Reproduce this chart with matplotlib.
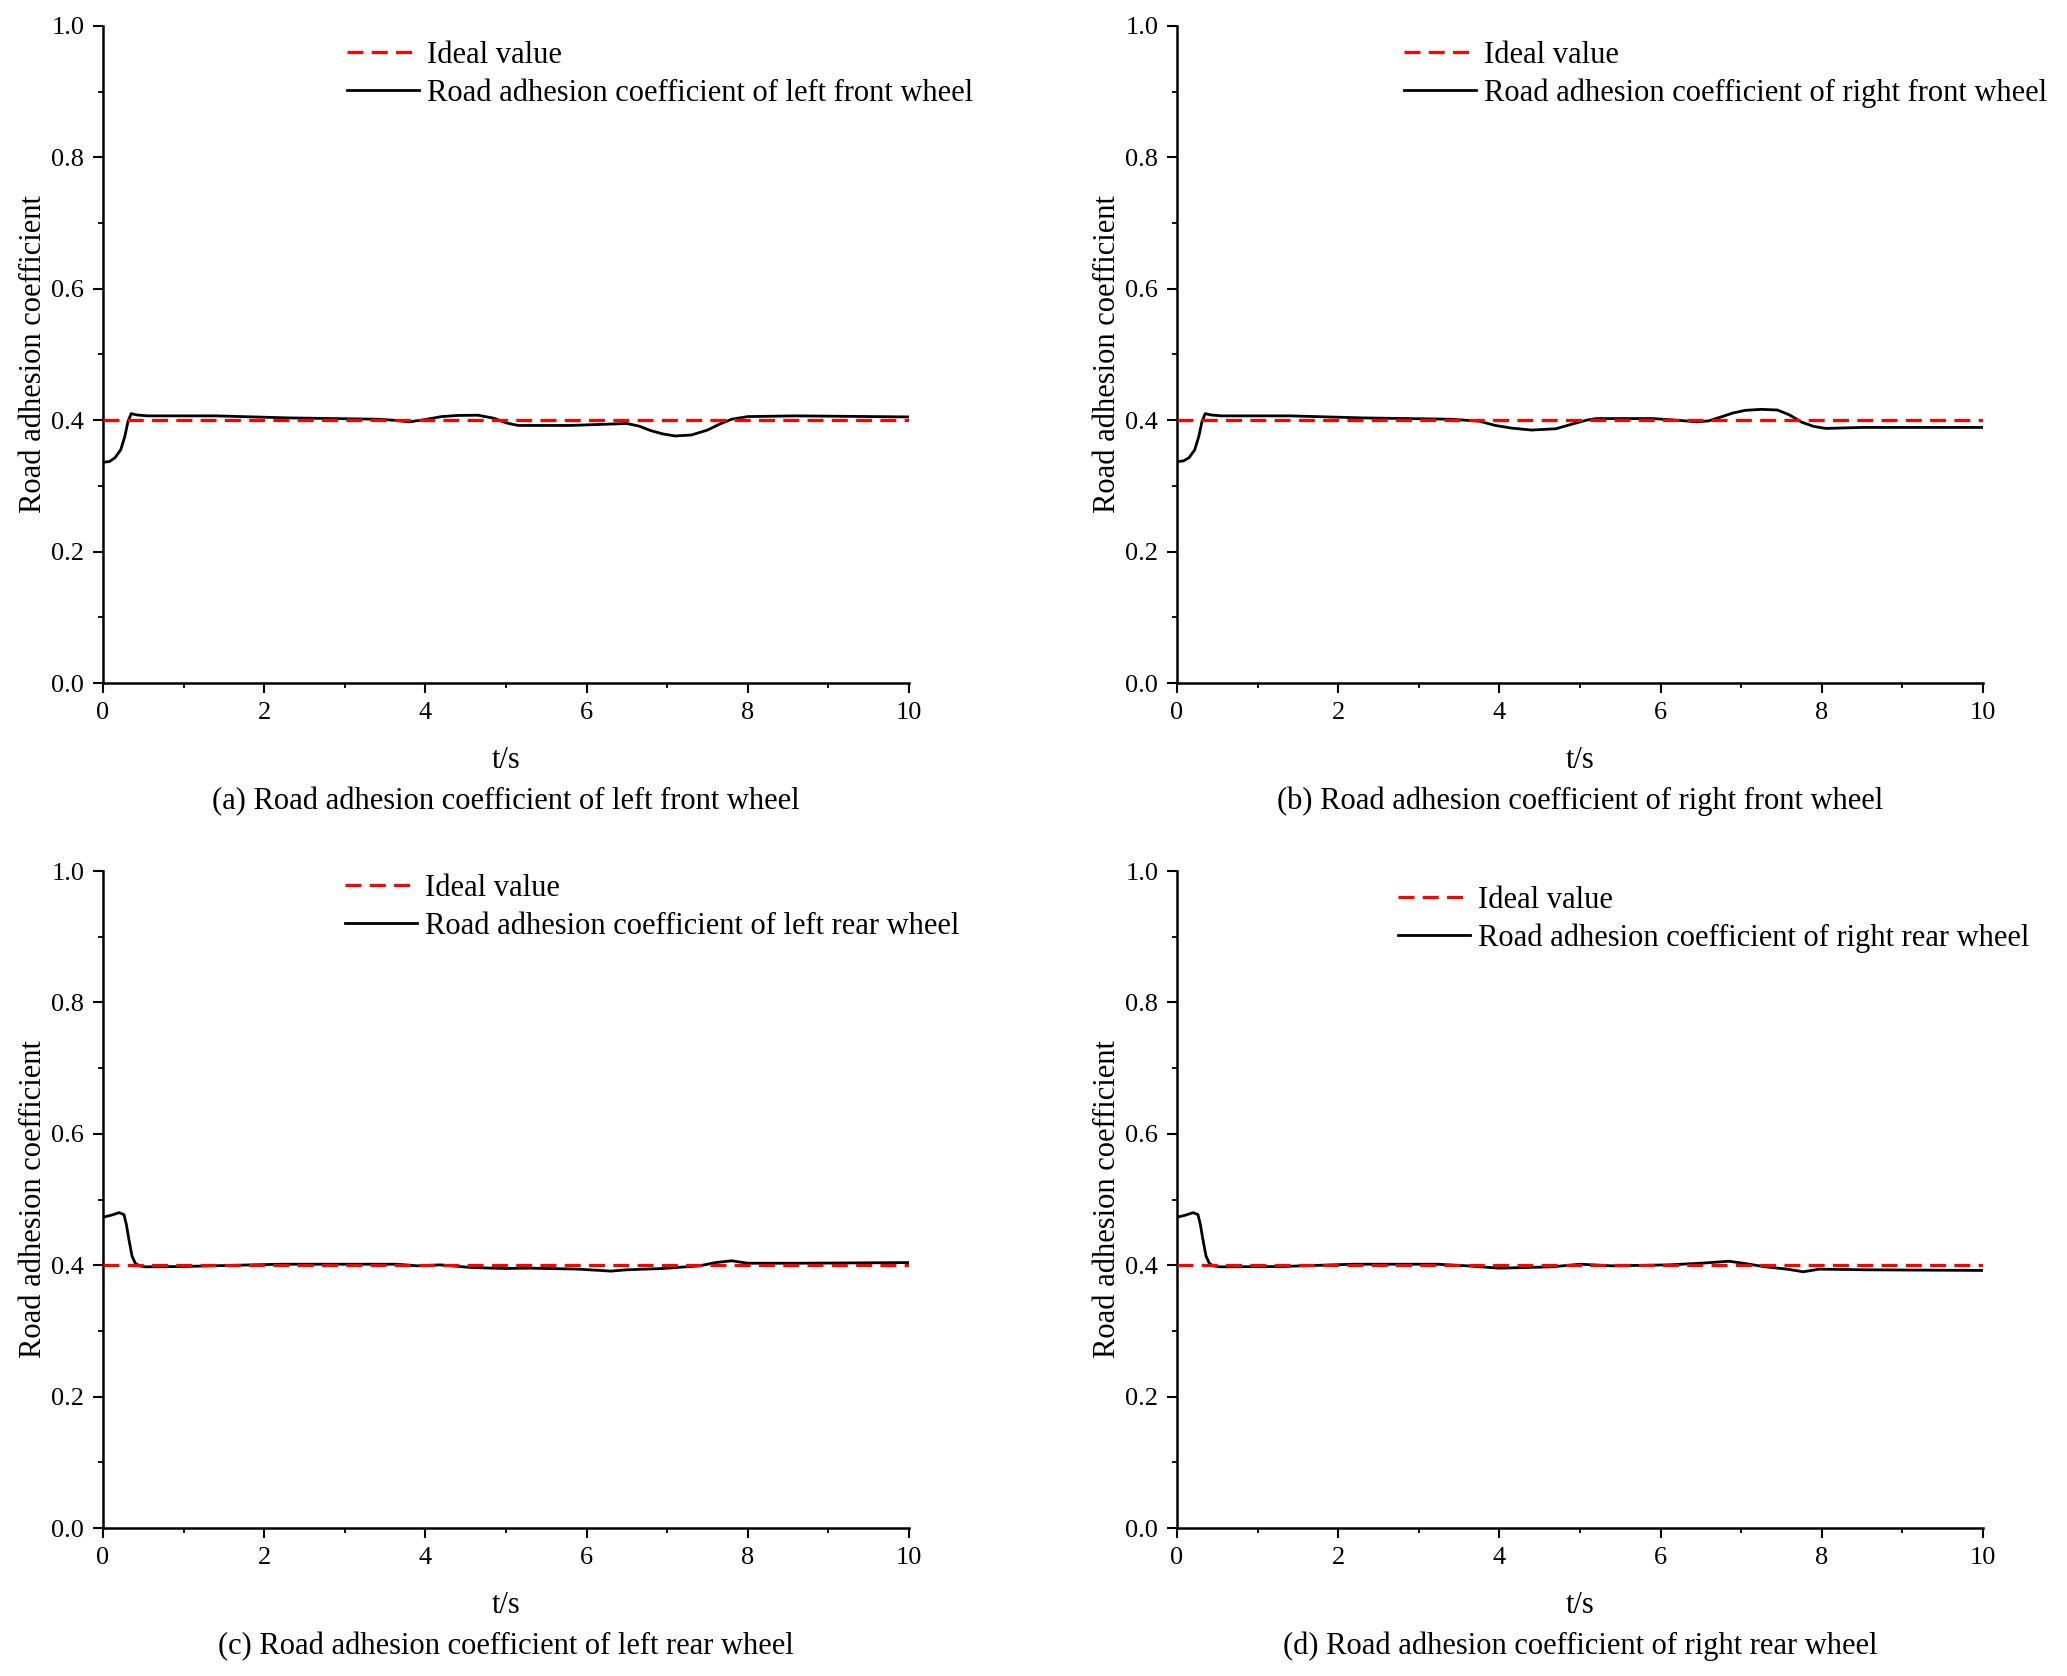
import numpy as np
import matplotlib
matplotlib.use('Agg')
import matplotlib.pyplot as plt
from matplotlib.ticker import MultipleLocator

plt.rcParams['font.family'] = ['Liberation Serif', 'DejaVu Serif']
plt.rcParams['mathtext.fontset'] = 'stix'

# ideal road adhesion coefficient
ideal = 0.4

# (a) left front wheel
tA = [0.0, 0.08, 0.15, 0.22, 0.27, 0.31, 0.35, 0.42, 0.55, 1.4, 2.3, 3.4, 3.6, 3.8, 4.0, 4.2,
      4.4, 4.65, 4.85, 5.0, 5.15, 5.8, 6.5, 6.65, 6.8, 6.95, 7.1, 7.3, 7.5, 7.65, 7.8, 8.0, 8.6, 10.0]
muA = [0.336, 0.337, 0.343, 0.355, 0.375, 0.398, 0.410, 0.408, 0.4066, 0.4066, 0.4035, 0.4015,
       0.400, 0.3975, 0.401, 0.4055, 0.4072, 0.4076, 0.403, 0.396, 0.392, 0.392, 0.395, 0.391,
       0.384, 0.379, 0.376, 0.3775, 0.385, 0.394, 0.4015, 0.4055, 0.4066, 0.405]

# (b) right front wheel
tB = [0.0, 0.08, 0.15, 0.22, 0.27, 0.31, 0.35, 0.42, 0.55, 1.4, 2.3, 3.4, 3.75, 3.95, 4.15, 4.4,
      4.7, 4.9, 5.08, 5.2, 5.9, 6.2, 6.45, 6.6, 6.75, 6.9, 7.05, 7.25, 7.45, 7.6, 7.75, 7.9, 8.05,
      8.5, 10.0]
muB = [0.337, 0.338, 0.343, 0.355, 0.375, 0.398, 0.410, 0.408, 0.4066, 0.4066, 0.4035, 0.4015,
       0.3985, 0.392, 0.388, 0.385, 0.387, 0.394, 0.400, 0.4025, 0.4025, 0.400, 0.3975, 0.399,
       0.405, 0.411, 0.415, 0.4165, 0.4155, 0.408, 0.397, 0.3905, 0.3875, 0.389, 0.389]

# (c) left rear wheel
tC = [0.0, 0.1, 0.2, 0.26, 0.29, 0.32, 0.36, 0.40, 0.45, 0.53, 1.0, 1.68, 2.2, 3.65, 3.9, 4.18,
      4.57, 4.97, 5.3, 5.9, 6.3, 6.5, 6.95, 7.4, 7.6, 7.8, 8.0, 8.6, 10.0]
muC = [0.473, 0.476, 0.480, 0.477, 0.462, 0.440, 0.414, 0.403, 0.399, 0.3975, 0.398, 0.400,
       0.4015, 0.4015, 0.399, 0.4005, 0.3965, 0.395, 0.3955, 0.394, 0.391, 0.393, 0.395, 0.399,
       0.404, 0.4067, 0.403, 0.403, 0.404]

# (d) right rear wheel
tD = [0.0, 0.1, 0.2, 0.26, 0.29, 0.32, 0.36, 0.40, 0.45, 0.53, 1.3, 2.18, 3.23, 3.6, 4.0, 4.65,
      5.0, 5.4, 6.1, 6.5, 6.85, 7.05, 7.3, 7.57, 7.77, 7.97, 8.55, 10.0]
muD = [0.473, 0.476, 0.480, 0.477, 0.462, 0.440, 0.414, 0.403, 0.399, 0.3975, 0.398, 0.4015,
       0.4015, 0.399, 0.3955, 0.3975, 0.4015, 0.399, 0.4005, 0.403, 0.406, 0.4025, 0.3975, 0.394,
       0.390, 0.394, 0.393, 0.392]

wheels = ['left front', 'right front', 'left rear', 'right rear']
letters = ['a', 'b', 'c', 'd']
times = [tA, tB, tC, tD]
values = [muA, muB, muC, muD]

fig = plt.figure(figsize=(20.67, 16.76), dpi=100)
W, H = 2067.0, 1676.0
lefts = [103, 1177, 103, 1177]
bottoms = [683, 683, 1528, 1528]
# legend anchor (pixels): handle start x, top y
legPos = [(347, 41), (1404, 41), (345, 874), (1398, 886)]

for i in range(4):
    ax = fig.add_axes([lefts[i] / W, 1 - bottoms[i] / H, 806 / W, 657 / H])
    ax.plot([0, 10], [ideal, ideal], color='red', lw=2.3, dashes=(5.0, 2.6),
            label='Ideal value', zorder=3)
    ax.plot(times[i], values[i], color='black', lw=2.0,
            label=f'Road adhesion coefficient of {wheels[i]} wheel', zorder=2)

    ax.set_xlim(0, 10)
    ax.set_ylim(0, 1.0)
    ax.xaxis.set_major_locator(MultipleLocator(2))
    ax.xaxis.set_minor_locator(MultipleLocator(1))
    ax.yaxis.set_major_locator(MultipleLocator(0.2))
    ax.yaxis.set_minor_locator(MultipleLocator(0.1))
    ax.yaxis.set_major_formatter(matplotlib.ticker.FormatStrFormatter('%.1f'))
    for s in ['top', 'right']:
        ax.spines[s].set_visible(False)
    for s in ['left', 'bottom']:
        ax.spines[s].set_linewidth(1.8)
    ax.tick_params(which='major', direction='out', length=7.5, width=1.5, labelsize=19, pad=6)
    ax.tick_params(which='minor', direction='out', length=3.5, width=1.3)

    ax.set_xlabel('t/s', fontsize=22, labelpad=16)
    ax.set_ylabel('Road adhesion coefficient', fontsize=22, labelpad=2)
    ax.text(0.5, -0.18, f'({letters[i]}) Road adhesion coefficient of {wheels[i]} wheel',
            transform=ax.transAxes, ha='center', va='center', fontsize=22)

    lx, ly = legPos[i]
    bx = (lx - lefts[i]) / 806.0
    by = (bottoms[i] - ly) / 657.0
    ax.legend(loc='upper left', bbox_to_anchor=(bx, by), frameon=False, fontsize=22,
              borderpad=0, borderaxespad=0, handlelength=2.36, handletextpad=0.27,
              labelspacing=0.28)

fig.savefig('out.png', dpi=100)
